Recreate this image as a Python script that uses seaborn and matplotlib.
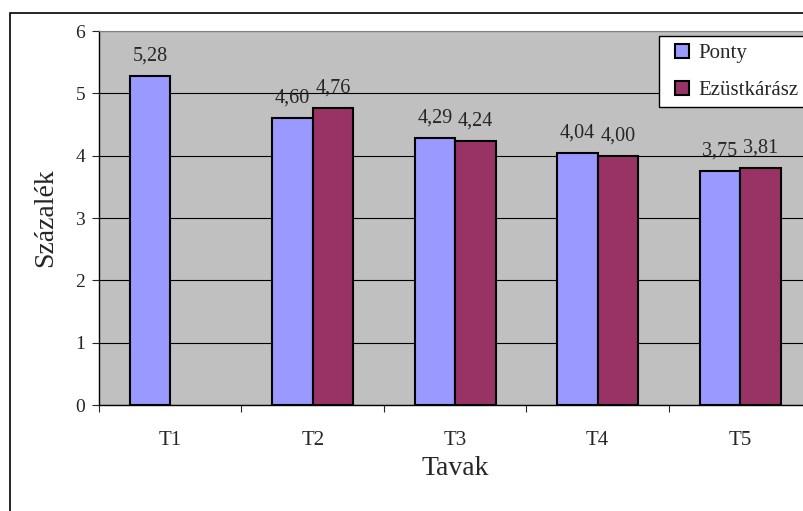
import numpy as np
import pandas as pd
import matplotlib.pyplot as plt
import seaborn as sns
from matplotlib.patches import Rectangle
from matplotlib.lines import Line2D

# Adatok
tavak = ['T1', 'T2', 'T3', 'T4', 'T5']
ponty = [5.28, 4.60, 4.29, 4.04, 3.75]
ezustkarasz = [np.nan, 4.76, 4.24, 4.00, 3.81]

df = pd.DataFrame({
    'Tavak': tavak * 2,
    'Érték': ponty + ezustkarasz,
    'Faj': ['Ponty'] * 5 + ['Ezüstkárász'] * 5,
})

sns.set_style('white')
plt.rcParams['font.family'] = ['Liberation Serif', 'DejaVu Serif']

fig = plt.figure(figsize=(8.04, 5.11), dpi=100)
ax = fig.add_axes([99 / 804, 106 / 511, 712.5 / 804, 374 / 511])
ax.set_facecolor('#C0C0C0')

sns.barplot(data=df, x='Tavak', y='Érték', hue='Faj', order=tavak,
            hue_order=['Ponty', 'Ezüstkárász'],
            palette=['#9999FF', '#993366'], width=0.5714, gap=0,
            edgecolor='black', linewidth=1.5, saturation=1, ax=ax, zorder=3)

for cont in ax.containers:
    ax.bar_label(cont, fmt=lambda v: f"{v:.2f}".replace('.', ','),
                 padding=7.5, fontsize=14.5)

ax.set_xlim(-0.5, 4.5)
ax.set_ylim(0, 6)
ax.set_yticks(range(0, 7))
ax.yaxis.grid(True, color='black', linewidth=0.8, zorder=0)
ax.set_axisbelow(True)

ax.set_xticks(range(5))
ax.set_xticklabels(tavak, fontsize=15)
ax.set_xticks(np.arange(-0.5, 5, 1), minor=True)
ax.tick_params(axis='x', which='major', length=0, pad=19)
ax.tick_params(axis='x', which='minor', length=5, width=0.8, direction='out', bottom=True)
ax.tick_params(axis='y', length=5, width=0.8, direction='out', left=True, labelsize=14, pad=5)

for side in ['left', 'bottom']:
    ax.spines[side].set_color('black')
    ax.spines[side].set_linewidth(1)
ax.spines['top'].set_color('#808080')
ax.spines['right'].set_visible(False)

ax.set_xlabel('Tavak', fontsize=20, labelpad=4)
ax.set_ylabel('Százalék', fontsize=20, labelpad=12)

leg = ax.get_legend()
if leg is not None:
    leg.remove()
handles = [Line2D([], [], linestyle='none', marker='s', markersize=9.5,
                  markerfacecolor=c, markeredgecolor='black', markeredgewidth=1.5)
           for c in ['#9999FF', '#993366']]
fig.legend(handles, ['Ponty', 'Ezüstkárász'], loc='upper left',
           bbox_to_anchor=(659 / 804, 1 - 36 / 511), fontsize=15,
           frameon=True, fancybox=False, edgecolor='black', framealpha=1,
           handlelength=1.5, handletextpad=0.05, numpoints=1,
           borderpad=0.35, labelspacing=0.85, borderaxespad=0)

# Külső keret
fig.patches.append(Rectangle((10 / 804, -0.1), 1.2, 1 - 13 / 511 + 0.1,
                             transform=fig.transFigure, fill=False,
                             edgecolor='black', linewidth=1.2))

fig.savefig('out.png', dpi=100)
